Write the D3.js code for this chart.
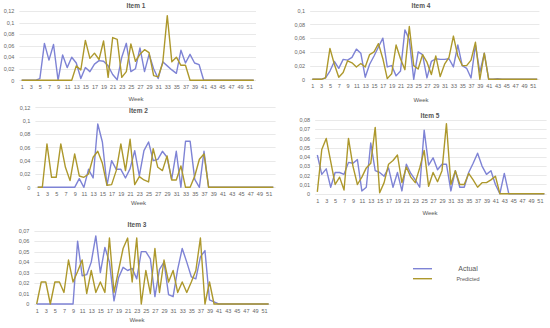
<!DOCTYPE html>
<html>
<head>
<meta charset="utf-8">
<script src="https://cdn.jsdelivr.net/npm/d3@7"></script>
<style>
  body { margin: 0; background: #fff; }
  svg { display: block; font-family: "Liberation Sans", Arial, sans-serif; }
</style>
</head>
<body>
<svg id="chart" width="550" height="328"></svg>
<script>
// weeks 1..52
var weeks = d3.range(1, 53);
var weekLabels = weeks.filter(function(w) { return w % 2 == 1; });

var item1Actual = [0,0,0,0,0.003,0.064,0.035,0.062,0,0.044,0.022,0.04,0.03,0.003,0.022,0.015,0.028,0.034,0.033,0.025,0.01,0.001,0.04,0.064,0.015,0.02,0.056,0.015,0.045,0.02,0.003,0.032,0.025,0.018,0.012,0.052,0.03,0.045,0.03,0.027,0,0,0,0,0,0,0,0,0,0,0,0];
var item1Pred   = [0,0,0,0,0,0,0,0,0,0,0,0,0.025,0.018,0.069,0.038,0.047,0.036,0.068,0.005,0.074,0.071,0.005,0.015,0.063,0.033,0.045,0.053,0.048,0.008,0.006,0.03,0.112,0.032,0.04,0.026,0.026,0,0,0,0,0,0,0,0,0,0,0,0,0,0,0];

var item2Actual = [0,0,0,0,0,0,0,0,0,0.013,0,0.027,0.014,0.095,0.068,0.003,0.04,0.027,0.027,0.014,0.028,0.055,0.017,0.055,0.068,0.04,0.042,0.054,0.045,0.012,0.054,0,0.069,0.069,0.012,0,0.054,0,0,0,0,0,0,0,0,0,0,0,0,0,0,0];
var item2Pred   = [0,0,0.065,0.015,0.015,0.065,0.03,0.01,0.05,0.017,0.015,0.02,0.045,0.054,0.036,0.003,0.004,0.025,0.065,0.025,0.072,0.004,0.016,0.011,0.008,0.058,0.03,0.025,0.047,0.011,0.011,0.032,0,0,0.017,0.042,0.05,0,0,0,0,0,0,0,0,0,0,0,0,0,0,0];

var item3Actual = [0,0,0,0,0,0,0,0,0,0.06,0.027,0.028,0.04,0.065,0.03,0.054,0.04,0.003,0.025,0.035,0.032,0.034,0.024,0.05,0.05,0.043,0.007,0.033,0.04,0.009,0.007,0.033,0.053,0.04,0.026,0.024,0.045,0.051,0.004,0.002,0,0,0,0,0,0,0,0,0,0,0,0];
var item3Pred   = [0,0.021,0.021,0,0.021,0.021,0.011,0.042,0.021,0.031,0.042,0.01,0.032,0.011,0.021,0.011,0.063,0.011,0.032,0.053,0.063,0.021,0.063,0,0.032,0.01,0.053,0.011,0.042,0.021,0.032,0.011,0.021,0.011,0.021,0.032,0.063,0,0.021,0,0,0,0,0,0,0,0,0,0,0,0,0];

var item4Actual = [0,0,0,0.002,0.012,0.026,0.016,0.029,0.028,0.032,0.044,0.038,0.003,0.022,0.034,0.047,0.06,0.018,0.02,0.005,0.012,0.072,0.058,0,0.04,0.036,0.002,0.026,0.03,0.029,0.029,0.03,0.018,0.05,0.02,0.016,0.002,0.05,0.01,0.038,0,0,0.001,0,0,0,0,0,0,0,0,0];
var item4Pred   = [0,0,0,0.002,0.045,0.022,0.003,0.01,0.027,0.024,0.018,0.023,0.018,0.036,0.04,0.052,0.03,0.001,0.008,0.05,0.03,0.014,0.077,0.02,0.015,0.036,0.025,0.007,0.034,0.004,0.022,0.032,0.063,0.034,0.02,0.02,0.028,0.054,0,0.038,0,0,0,0,0,0,0,0,0,0,0,0];

var item5Actual = [0.042,0.021,0.027,0.007,0.023,0.023,0.021,0.034,0.033,0.037,0.003,0.007,0.055,0.025,0.023,0.019,0.028,0.007,0.023,0.003,0.032,0.022,0.015,0.007,0.069,0.031,0.039,0.026,0.032,0.032,0.003,0.025,0.007,0.007,0.023,0.033,0.044,0.03,0.021,0.025,0.01,0,0.022,0,0,0,0,0,0,0,0,0];
var item5Pred   = [0.002,0.048,0.06,0.035,0.01,0.018,0.004,0.06,0.03,0.01,0.018,0.028,0.033,0.072,0.001,0.012,0.032,0.036,0.042,0.012,0.029,0.018,0.012,0.028,0.047,0.008,0.023,0.013,0.025,0.076,0.01,0.025,0.01,0.01,0.022,0.015,0.007,0.012,0.012,0.015,0.019,0,0,0,0,0,0,0,0,0,0,0];

var ticks1 = [0, 0.02, 0.04, 0.06, 0.08, 0.1, 0.12];
var ticks2 = [0, 0.02, 0.04, 0.06, 0.08, 0.1, 0.12];
var ticks3 = [0, 0.01, 0.02, 0.03, 0.04, 0.05, 0.06, 0.07];
var ticks4 = [0, 0.02, 0.04, 0.06, 0.08, 0.1];
var ticks5 = [0, 0.01, 0.02, 0.03, 0.04, 0.05, 0.06, 0.07, 0.08];

var blue = "#7e83d5",
    gold = "#ad982c";

var svg = d3.select("#chart");
var fmt = function(d) { return d == 0 ? "0" : String(+d.toFixed(2)).replace(".", ","); };

function drawPanel(title, actual, pred, ticks, box) {
  var x = d3.scalePoint()
      .domain(weeks)
      .range([box.left, box.right])
      .padding(0.5);

  var y = d3.scaleLinear()
      .domain([0, ticks[ticks.length - 1]])
      .range([box.bottom, box.top]);

  var g = svg.append("g");

  // gridlines
  g.append("g")
      .selectAll("line")
      .data(ticks)
      .enter().append("line")
      .attr("x1", box.left)
      .attr("x2", box.right)
      .attr("y1", function(d) { return Math.round(y(d)) + 0.5; })
      .attr("y2", function(d) { return Math.round(y(d)) + 0.5; })
      .style("stroke", "#e3e3e3")
      .style("stroke-width", 0.8);

  var yAxis = d3.axisLeft(y)
      .tickValues(ticks)
      .tickFormat(fmt)
      .tickSize(0)
      .tickPadding(5);

  var ya = g.append("g")
      .attr("transform", "translate(" + box.left + ",0)")
      .call(yAxis);
  ya.select(".domain").remove();
  ya.selectAll("text")
      .style("font-size", "5.5px")
      .style("fill", "#666");

  var xAxis = d3.axisBottom(x)
      .tickValues(weekLabels)
      .tickSize(0)
      .tickPadding(5);

  var xa = g.append("g")
      .attr("transform", "translate(0," + box.bottom + ")")
      .call(xAxis);
  xa.select(".domain").remove();
  xa.selectAll("text")
      .style("font-size", "5.5px")
      .style("fill", "#666");

  var line = d3.line()
      .x(function(d, i) { return x(weeks[i]); })
      .y(function(d) { return y(d); });

  g.append("path")
      .datum(actual)
      .attr("d", line)
      .style("fill", "none")
      .style("stroke", blue)
      .style("stroke-width", 1.4)
      .style("stroke-linejoin", "round");

  g.append("path")
      .datum(pred)
      .attr("d", line)
      .style("fill", "none")
      .style("stroke", gold)
      .style("stroke-width", 1.4)
      .style("stroke-linejoin", "round");

  g.append("text")
      .attr("x", box.titleX)
      .attr("y", box.titleY)
      .attr("text-anchor", "middle")
      .style("font-size", "6.5px")
      .style("font-weight", "bold")
      .style("fill", "#555")
      .text(title);

  g.append("text")
      .attr("x", box.titleX)
      .attr("y", box.weekY)
      .attr("text-anchor", "middle")
      .style("font-size", "6px")
      .style("fill", "#595959")
      .text("Week");
}

drawPanel("Item 1", item1Actual, item1Pred, ticks1,
  {left: 19.4, right: 256, top: 11, bottom: 80.3, titleX: 136, titleY: 8.2, weekY: 100.5});
drawPanel("Item 4", item4Actual, item4Pred, ticks4,
  {left: 310.1, right: 539.4, top: 10.7, bottom: 79.3, titleX: 421, titleY: 7.5, weekY: 102});
drawPanel("Item 2", item2Actual, item2Pred, ticks2,
  {left: 35.4, right: 275.6, top: 107.3, bottom: 187.3, titleX: 138.5, titleY: 113, weekY: 204.5});
drawPanel("Item 5", item5Actual, item5Pred, ticks5,
  {left: 315.1, right: 546.6, top: 120, bottom: 193.7, titleX: 430, titleY: 118.3, weekY: 215.3});
drawPanel("Item 3", item3Actual, item3Pred, ticks3,
  {left: 34.4, right: 270.9, top: 230.7, bottom: 304, titleX: 137, titleY: 227, weekY: 322});

// legend
var legendItems = ["Actual", "Predicted"];
var legendColors = [blue, gold];
var lg = svg.append("g");
lg.selectAll("line")
    .data(legendItems)
    .enter().append("line")
    .attr("x1", 413)
    .attr("x2", 432)
    .attr("y1", function(d, i) { return 268.7 + i * 10; })
    .attr("y2", function(d, i) { return 268.7 + i * 10; })
    .style("stroke", function(d, i) { return legendColors[i]; })
    .style("stroke-width", 1.4);
lg.selectAll("text")
    .data(legendItems)
    .enter().append("text")
    .attr("x", 468)
    .attr("y", function(d, i) { return 268.7 + i * 10; })
    .attr("dy", "0.35em")
    .attr("text-anchor", "middle")
    .style("font-size", function(d, i) { return i == 0 ? "7px" : "5.5px"; })
    .style("fill", "#595959")
    .text(function(d) { return d; });
</script>
</body>
</html>
